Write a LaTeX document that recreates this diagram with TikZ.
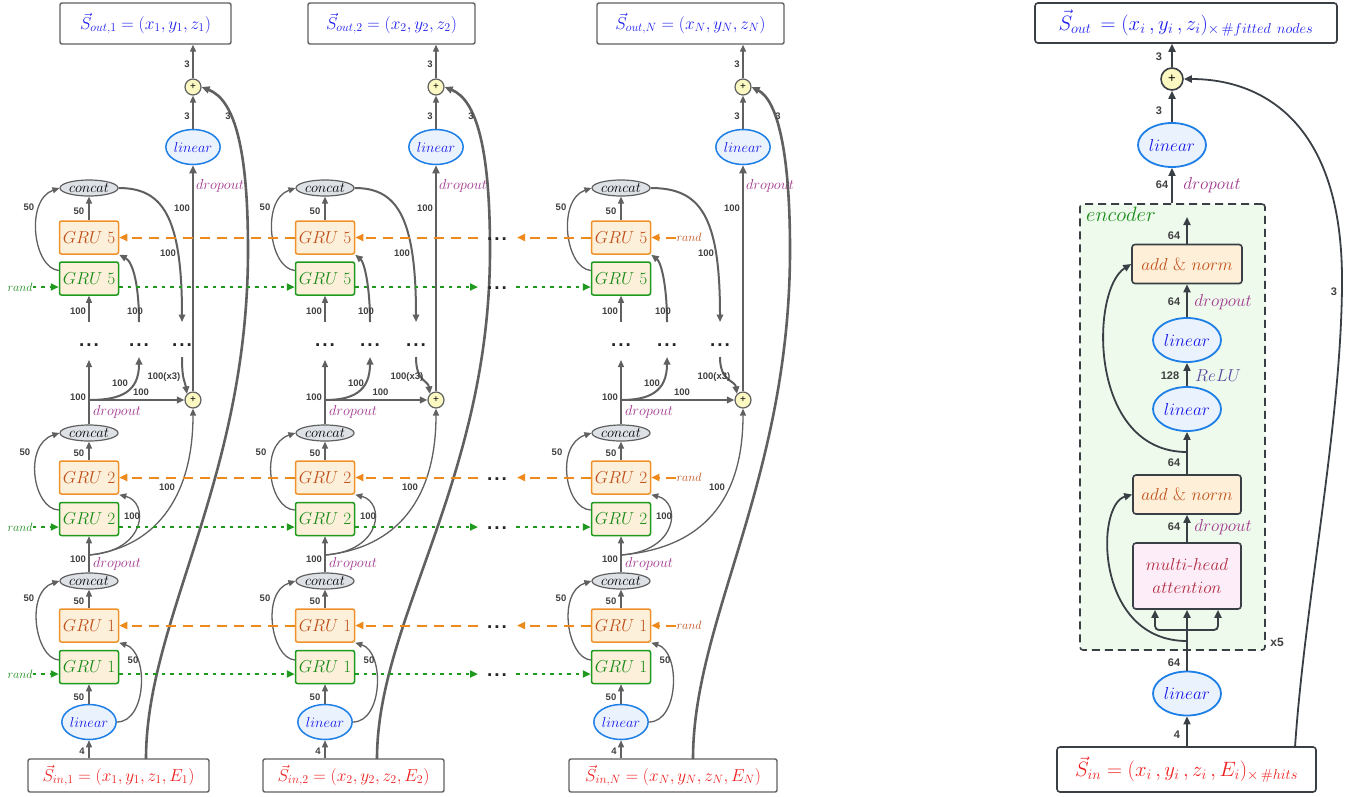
\documentclass[tikz,border=0pt]{standalone}
\usepackage{fontspec}
\newfontfamily\labfont{Liberation Sans}
\usetikzlibrary{arrows.meta,shapes.geometric,calc}
\definecolor{agray}{HTML}{606060}
\definecolor{rgray}{HTML}{3A3F45}
\definecolor{ngray}{HTML}{404040}
\definecolor{orbd}{HTML}{F0922B}
\definecolor{orln}{HTML}{EE8A1C}
\definecolor{ortx}{HTML}{C0501A}
\definecolor{grbd}{HTML}{1E9A1E}
\definecolor{grtx}{HTML}{1A8C1A}
\definecolor{cream}{HTML}{FDF0DA}
\definecolor{libd}{HTML}{1E7FE6}
\definecolor{lifl}{HTML}{EAF3FD}
\definecolor{litx}{HTML}{1414E6}
\definecolor{cofl}{HTML}{DEE1E6}
\definecolor{plfl}{HTML}{FBF8C2}
\definecolor{dpc}{HTML}{A2388E}
\definecolor{outc}{HTML}{1E1EEE}
\definecolor{inc}{HTML}{EE1E1E}
\definecolor{encfl}{HTML}{EDFAEC}
\definecolor{encc}{HTML}{1A8C1A}
\definecolor{mhfl}{HTML}{FDEDF8}
\definecolor{mhtx}{HTML}{B02A40}
\definecolor{relu}{HTML}{5A4A9E}
\definecolor{anfl}{HTML}{FDEFD8}
\definecolor{antx}{HTML}{C0501A}
\newcommand\tdots{{\labfont\bfseries\fontsize{19}{19}\selectfont.\kern2pt.\kern2pt.}}
\tikzset{
  gruo/.style={draw=orbd, fill=cream, line width=1.5pt, rounded corners=2pt, minimum width=59pt, minimum height=33pt, text=ortx, font=\fontsize{17}{20}\selectfont, inner sep=0pt},
  grug/.style={draw=grbd, fill=cream, line width=1.5pt, rounded corners=2pt, minimum width=59pt, minimum height=33pt, text=grtx, font=\fontsize{17}{20}\selectfont, inner sep=0pt},
  linb/.style={ellipse, draw=libd, fill=lifl, line width=1.5pt, minimum width=52pt, minimum height=35pt, inner sep=0pt, text=litx, font=\fontsize{15}{18}\selectfont},
  conc/.style={ellipse, draw=agray, fill=cofl, line width=1.2pt, minimum width=58pt, minimum height=16pt, inner sep=0pt, font=\fontsize{14}{16}\selectfont},
  plusn/.style={circle, draw=agray, fill=plfl, line width=1.2pt, minimum size=16pt, inner sep=0pt, font=\labfont\fontsize{10}{10}\selectfont},
  obox/.style={draw=agray, rounded corners=2pt, line width=1.4pt, fill=white, minimum height=41pt, text=outc, font=\fontsize{18}{21}\selectfont, inner sep=0pt},
  ibox/.style={draw=agray, rounded corners=2pt, line width=1.4pt, fill=white, minimum height=33pt, text=inc, font=\fontsize{17.5}{21}\selectfont, inner sep=0pt},
  conn/.style={draw=agray, line width=1.3pt, -{Triangle[length=7pt,width=6pt]}},
  tconn/.style={draw=agray, line width=2.6pt, -{Triangle[length=8pt,width=7pt]}},
  mconn/.style={draw=agray, line width=2pt, -{Triangle[length=7.5pt,width=6.5pt]}},
  num/.style={font=\labfont\bfseries\fontsize{9.5}{10}\selectfont, text=ngray, inner sep=0pt},
  dp/.style={text=dpc, font=\fontsize{14}{16}\selectfont, inner sep=0pt},
  dotn/.style={inner sep=0pt, anchor=base, text=black!85},
  odash/.style={draw=orln, line width=2pt, dash pattern=on 10pt off 7pt, -{Triangle[length=8pt,width=7pt]}},
  gdot/.style={draw=grbd, line width=2pt, dash pattern=on 3.5pt off 5pt, -{Triangle[length=8pt,width=7pt]}},
  orand/.style={text=ortx, font=\fontsize{13}{15}\selectfont, inner sep=0pt},
  grand/.style={text=grtx, font=\fontsize{13}{15}\selectfont, inner sep=0pt},
  rconn/.style={draw=rgray, line width=1.8pt, -{Triangle[length=8pt,width=7pt]}},
  rnum/.style={font=\labfont\bfseries\fontsize{11}{12}\selectfont, text=ngray, inner sep=0pt},
  rlin/.style={ellipse, draw=libd, fill=lifl, line width=1.8pt, minimum width=68pt, minimum height=44pt, inner sep=0pt, text=litx, font=\fontsize{19}{22}\selectfont},
  rbox/.style={draw=rgray, rounded corners=3pt, line width=1.6pt, fill=anfl, minimum width=110pt, minimum height=39pt, text=antx, font=\fontsize{18}{21}\selectfont, inner sep=0pt},
  rdp/.style={text=dpc, font=\fontsize{17}{20}\selectfont, inner sep=0pt}
}
\begin{document}
\begin{tikzpicture}[x=1pt,y=-1pt]
\path[use as bounding box] (0,0) rectangle (1351,796);
\fill[white] (0,0) rectangle (1351,796);

\foreach \s/\gx/\dx/\ex/\px/\ocx/\ow/\icx/\iw/\cs/\cm/\cn in {a/89/139/182/193/145.5/171/118.5/181/146/248/1,b/325/370/416/436/391.5/167/353.5/181/377/490/2,c/621/667/720/743/690.5/187/673/208/693/790/N}{
  \node[obox, minimum width=\ow pt] (out\s) at (\ocx,23.5) {$\vec{S}_{out,\cn}=(x_{\cn},y_{\cn},z_{\cn})$};
  \node[plusn] (pt\s) at (\px,87) {+};
  \node[linb] (lt\s) at (\px,147) {$linear$};
  \node[conc] (c5\s) at (\gx,188) {$concat$};
  \node[gruo] (o5\s) at (\gx,237.5) {$GRU\;5$};
  \node[grug] (g5\s) at (\gx,278.5) {$GRU\;5$};
  \node[dotn] (da\s) at (\gx,346) {\tdots};
  \node[dotn] (db\s) at (\dx,346) {\tdots};
  \node[dotn] (dc\s) at (\ex,346) {\tdots};
  \coordinate (B\s) at (\gx,400);
  \node[plusn] (pm\s) at (\px,400) {+};
  \node[conc] (c2\s) at (\gx,433) {$concat$};
  \node[gruo] (o2\s) at (\gx,477.5) {$GRU\;2$};
  \node[grug] (g2\s) at (\gx,519) {$GRU\;2$};
  \coordinate (A\s) at (\gx,555);
  \node[conc] (c1\s) at (\gx,581) {$concat$};
  \node[gruo] (o1\s) at (\gx,625.5) {$GRU\;1$};
  \node[grug] (g1\s) at (\gx,667) {$GRU\;1$};
  \node[linb] (lb\s) at (\gx,722) {$linear$};
  \node[ibox, minimum width=\iw pt] (in\s) at (\icx,775.5) {$\vec{S}_{in,\cn}=(x_{\cn},y_{\cn},z_{\cn},E_{\cn})$};
  \coordinate (cs\s) at (\cs,759);
  \coordinate (u2\s) at (\dx,322);
  \coordinate (u3\s) at (\ex,322);
  \coordinate (v1\s) at (\gx,360);
  \coordinate (v2\s) at (\dx,357);
  \coordinate (v3\s) at (\ex,357);
  \coordinate (w1\s) at (\gx,322);
  % bottom
  \draw[conn] (lb\s.south|-in\s.north) -- (lb\s.south);
  \node[num] at (\gx-7,751) {4};
  \draw[conn] (lb\s) -- (g1\s);
  \node[num] at (\gx-10,697) {50};
  \draw[conn] (lb\s.east) .. controls (\gx+58,722) and (\gx+60,652) .. (o1\s.south east);
  \node[num] at (\gx+44,660) {50};
  \draw[conn] (o1\s) -- (c1\s);
  \node[num] at (\gx-10,601) {50};
  \draw[conn] ([yshift=7pt]g1\s.west) .. controls (\gx-54,658) and (\gx-64,592) .. (c1\s.west);
  \node[num] at (\gx-60,598) {50};
  % level 2
  \draw[conn] (c1\s) -- (g2\s);
  \node[num] at (\gx-11,559) {100};
  \node[dp] at (\gx+28,564) {$dropout$};
  \draw[conn] (A\s) .. controls (\gx+58,551) and (\gx+60,502) .. (o2\s.south east);
  \node[num] at (\gx+43,516) {100};
  \draw[conn] (A\s) .. controls (\px-40,548) and (\px,500) .. (pm\s.south);
  \node[num] at (\px-26,487) {100};
  \draw[conn] (o2\s) -- (c2\s);
  \node[num] at (\gx-10,453) {50};
  \draw[conn] ([yshift=9pt]g2\s.west) .. controls (\gx-56,509) and (\gx-66,445) .. (c2\s.west);
  \node[num] at (\gx-64,452) {50};
  % middle
  \draw[conn] (c2\s) -- (v1\s);
  \node[num] at (\gx-11,397) {100};
  \node[dp] at (\gx+28,412) {$dropout$};
  \draw[mconn] (B\s) .. controls (\dx-18,400) and (\dx,392) .. (v2\s);
  \node[num] at (\gx+31,383) {100};
  \draw[mconn] (B\s) -- (pm\s.west);
  \node[num] at ({(\gx+\px)/2},392) {100};
  \draw[mconn] (v3\s) .. controls (\ex,382) and (\px-8,380) .. (pm\s.north west);
  \node[num] at (\px-29,377) {100(x3)};
  % level 5
  \draw[conn] (w1\s) -- (g5\s);
  \node[num] at (\gx-11,311) {100};
  \draw[mconn] (u2\s) .. controls (\dx,285) and (\dx-6,262) .. (o5\s.south east);
  \node[num] at (\dx-4,311) {100};
  \draw[conn] (o5\s) -- (c5\s);
  \node[num] at (\gx-10,211) {50};
  \draw[conn] ([yshift=8pt]g5\s.west) .. controls (\gx-56,268) and (\gx-64,200) .. (c5\s.west);
  \node[num] at (\gx-60,207) {50};
  \draw[mconn] (c5\s.east) .. controls (\ex-20,188) and (\ex,215) .. (u3\s);
  \node[num] at (\ex-14,253) {100};
  % top
  \draw[tconn] (pm\s) -- (lt\s);
  \node[num] at (\px-11,208) {100};
  \node[dp] at (\px+27,186) {$dropout$};
  \draw[conn] (lt\s) -- (pt\s);
  \node[num] at (\px-6,116) {3};
  \draw[conn] (pt\s) -- (pt\s|-out\s.south);
  \node[num] at (\px-6,64) {3};
  \draw[tconn] (cs\s) .. controls (\cs,620) and (\cm,480) .. (\cm,250) .. controls (\cm,150) and (\cm-13,100) .. (pt\s.east);
  \node[num] at (\px+35,116) {3};
}

% horizontal recurrent connections
\foreach \lv/\gy/\oy in {5/287/237.5,2/527/477.5,1/674/625.5}{
  \node[grand] (rg\lv) at (20,\gy) {$rand$};
  \draw[odash] (o\lv b.west) -- (o\lv a.east);
  \draw[odash] (478,\oy) -- (o\lv b.east);
  \draw[odash] (o\lv c.west) -- (517,\oy);
  \node[dotn] at (497,\oy+2.5) {\tdots};
  \node[orand] (ro\lv) at (689,\oy) {$rand$};
  \draw[odash] (ro\lv.west) -- (o\lv c.east);
  \coordinate (ga\lv) at (o\lv a.west|-0,\gy);
  \draw[gdot] (rg\lv.east) -- (g\lv a.west|-ga\lv);
  \draw[gdot] (g\lv a.east|-ga\lv) -- (g\lv b.west|-ga\lv);
  \draw[gdot] (g\lv b.east|-ga\lv) -- (478,\gy);
  \draw[gdot] (516,\gy) -- (g\lv c.west|-ga\lv);
  \node[dotn] at (497,\gy+2.5) {\tdots};
}

% ---------------- transformer part ----------------
\node[draw=rgray, dashed, dash pattern=on 8pt off 5pt, line width=1.6pt, fill=encfl, rounded corners=3pt, minimum width=185pt, minimum height=446pt, inner sep=0pt] (enc) at (1172.5,427) {};
\node[text=encc, font=\fontsize{20}{22}\selectfont, inner sep=0pt] at (1121,214) {$encoder$};
\node[font=\labfont\bfseries\fontsize{12}{13}\selectfont, text=ngray, inner sep=0pt] at (1277,642) {x5};
\node[draw=rgray, rounded corners=3pt, line width=1.6pt, fill=white, minimum width=302pt, minimum height=40pt, inner sep=0pt, text=outc, font=\fontsize{21}{24}\selectfont] (outR) at (1186,23) {$\vec{S}_{out}\,=(x_i\,,y_i\,,z_i)_{\times\,\#fitted\ nodes}$};
\node[plusn, draw=rgray, minimum size=22pt, line width=1.6pt, font=\labfont\fontsize{13}{13}\selectfont] (pR) at (1172,79) {+};
\node[rlin] (l1R) at (1172,145) {$linear$};
\node[rbox] (an1) at (1187,264) {$add\ \&\ norm$};
\node[rlin] (l2R) at (1187,340) {$linear$};
\node[rlin] (l3R) at (1187,409) {$linear$};
\node[rbox, minimum width=108pt] (an2) at (1187,494.5) {$add\ \&\ norm$};
\node[rbox, fill=mhfl, text=mhtx, minimum width=108pt, minimum height=66pt, align=center] (mha) at (1187,576) {$multi$-$head$\\[2pt]$attention$};
\node[rlin] (l4R) at (1187,693.5) {$linear$};
\node[draw=rgray, rounded corners=3pt, line width=1.6pt, fill=white, minimum width=259pt, minimum height=45pt, inner sep=0pt, text=inc, font=\fontsize{21}{24}\selectfont] (inR) at (1186.5,769.5) {$\vec{S}_{in}=(x_i\,,y_i\,,z_i\,,E_i)_{\times\,\#hits}$};
\coordinate (brk) at (1187,630);
\coordinate (sk2) at (1187,641);
\coordinate (sk1) at (1187,452);
\coordinate (a1top) at (1187,217);
\coordinate (bigs) at (1295,747);

\draw[rconn] (inR.north-|l4R) -- (l4R);
\node[rnum] at (1177,735) {4};
\draw[rconn, line width=2.4pt, -] (l4R) -- (brk);
\node[rnum] at (1174,663) {64};
\draw[rconn, rounded corners=4pt] (brk) -| (mha.south-|1155,0);
\draw[rconn, rounded corners=4pt] (brk) -| (mha.south-|1218,0);
\draw[rconn] (brk) -- (mha.south);
\draw[rconn] (sk2) .. controls (1095,641) and (1095,505) .. (an2.west);
\draw[rconn] (mha) -- (an2);
\node[rnum] at (1174,527) {64};
\node[rdp] at (1223,527) {$dropout$};
\draw[rconn] (an2) -- (l3R);
\node[rnum] at (1174,463) {64};
\draw[rconn] (sk1) .. controls (1088,452) and (1090,290) .. (an1.west);
\draw[rconn] (l3R) -- (l2R);
\node[rnum] at (1170,376) {128};
\node[text=relu, font=\fontsize{17}{20}\selectfont, inner sep=0pt] at (1218,376) {$ReLU$};
\draw[rconn] (l2R) -- (an1);
\node[rnum] at (1174,302) {64};
\node[rdp] at (1223,302) {$dropout$};
\draw[rconn] (an1) -- (a1top);
\node[rnum] at (1174,236) {64};
\draw[rconn] (enc.north-|l1R) -- (l1R);
\node[rnum] at (1162,185) {64};
\node[rdp] at (1212,185) {$dropout$};
\draw[rconn] (l1R) -- (pR);
\node[rnum] at (1159,111) {3};
\draw[rconn] (pR) -- (pR|-outR.south);
\node[rnum] at (1159,57) {3};
\draw[rconn] (bigs) .. controls (1305,600) and (1342,420) .. (1342,280) .. controls (1342,120) and (1260,79) .. (pR.east);
\node[rnum] at (1334,292) {3};
\end{tikzpicture}
\end{document}
